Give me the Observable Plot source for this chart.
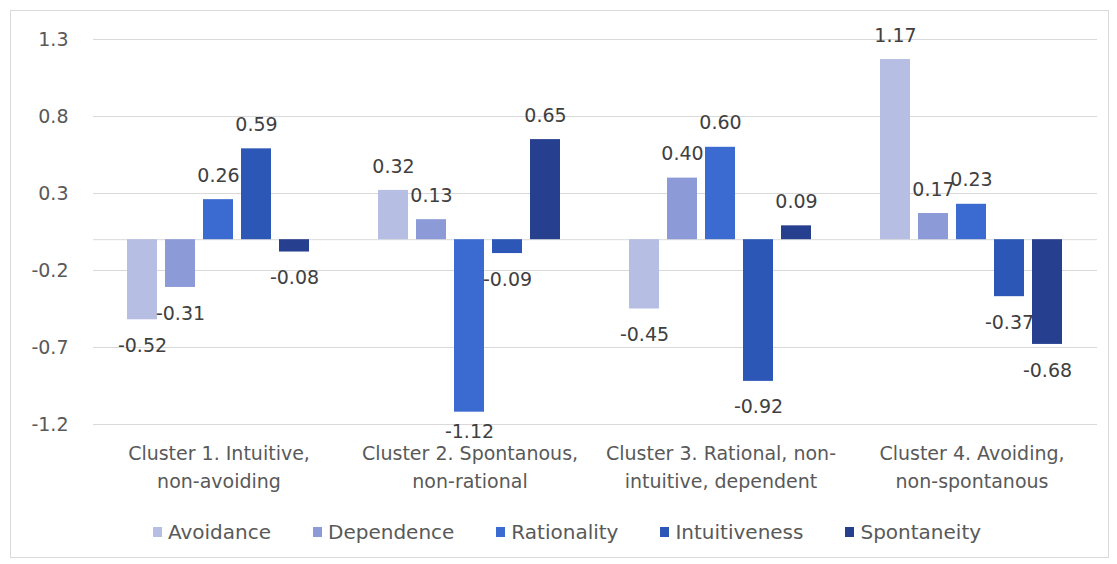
<!DOCTYPE html>
<html><head><meta charset="utf-8">
<script src="https://cdn.jsdelivr.net/npm/d3@7"></script>
<script src="https://cdn.jsdelivr.net/npm/@observablehq/plot@0.6"></script>
<style>
body{margin:0;background:#fff;font-family:"DejaVu Sans",sans-serif;}
#frame{position:absolute;left:10px;top:10px;width:1099px;height:548px;border:1px solid #d9d9d9;box-sizing:border-box;pointer-events:none;}
#chart{position:absolute;left:0;top:0;}
#legend{position:absolute;left:0;top:519px;width:1117px;display:flex;justify-content:center;gap:42px;font-size:20px;color:#595959;line-height:26px;padding-left:17px;box-sizing:border-box;}
#legend .item{display:flex;align-items:center;gap:6px;}
#legend .sw{width:9px;height:10px;display:inline-block;}
</style></head><body>
<div id="chart"></div>
<div id="legend"></div>
<div id="frame"></div>
<script>
const clusters = [
  "Cluster 1. Intuitive,\nnon-avoiding",
  "Cluster 2. Spontanous,\nnon-rational",
  "Cluster 3. Rational, non-\nintuitive, dependent",
  "Cluster 4. Avoiding,\nnon-spontanous"
];
const series = ["Avoidance", "Dependence", "Rationality", "Intuitiveness", "Spontaneity"];
const avoidance     = [-0.52, 0.32, -0.45, 1.17];
const dependence    = [-0.31, 0.13, 0.40, 0.17];
const rationality   = [0.26, -1.12, 0.60, 0.23];
const intuitiveness = [0.59, -0.09, -0.92, -0.37];
const spontaneity   = [-0.08, 0.65, 0.09, -0.68];
const colors = ["#b6bee3", "#8c9bd8", "#3b6bd0", "#2c57b6", "#263f8f"];
const yTicks = [1.3, 0.8, 0.3, -0.2, -0.7, -1.2];
// data labels are kept inside the plot area (as in the original), never below this value
const labelFloor = -1.08;

const seriesValues = [avoidance, dependence, rationality, intuitiveness, spontaneity];
const data = clusters.flatMap((c, i) => series.map((s, j) => ({cluster: c, series: s, value: seriesValues[j][i]})));

const plot = Plot.plot({
  width: 1117,
  height: 500,
  marginTop: 39,
  marginBottom: 76,
  marginLeft: 93,
  marginRight: 20,
  style: {fontFamily: "'DejaVu Sans', sans-serif", fontSize: "19px", color: "#595959", background: "transparent"},
  fx: {domain: clusters, paddingInner: 0, paddingOuter: 0, axis: null, label: null},
  x: {domain: series, paddingInner: 0.2, paddingOuter: 0.86, axis: null},
  y: {domain: [-1.2, 1.3], axis: null},
  color: {domain: series, range: colors},
  marks: [
    Plot.gridY(yTicks, {stroke: "#d9d9d9", strokeOpacity: 1}),
    Plot.ruleY([0], {stroke: "#d9d9d9"}),
    Plot.axisY(yTicks, {tickSize: 0, tickPadding: 25, tickFormat: d => d.toFixed(1), label: null, fill: "#595959", fontSize: 19}),
    Plot.axisFx({anchor: "bottom", tickSize: 0, tickPadding: 16, lineHeight: 1.47, label: null, fill: "#595959", fontSize: 19}),
    Plot.barY(data, {fx: "cluster", x: "series", y: "value", fill: "series"}),
    Plot.text(data, {filter: d => d.value >= 0, fx: "cluster", x: "series", y: "value", text: d => d.value.toFixed(2), dy: -24, fill: "#404040", fontSize: 19}),
    Plot.text(data, {filter: d => d.value < 0, fx: "cluster", x: "series", y: d => Math.max(d.value, labelFloor), text: d => d.value.toFixed(2), dy: 26, fill: "#404040", fontSize: 19})
  ]
});
document.getElementById("chart").appendChild(plot);

const legend = document.getElementById("legend");
series.forEach((s, i) => {
  const item = document.createElement("div");
  item.className = "item";
  const sw = document.createElement("span");
  sw.className = "sw";
  sw.style.background = colors[i];
  const t = document.createElement("span");
  t.textContent = s;
  item.appendChild(sw);
  item.appendChild(t);
  legend.appendChild(item);
});
</script>
</body></html>
